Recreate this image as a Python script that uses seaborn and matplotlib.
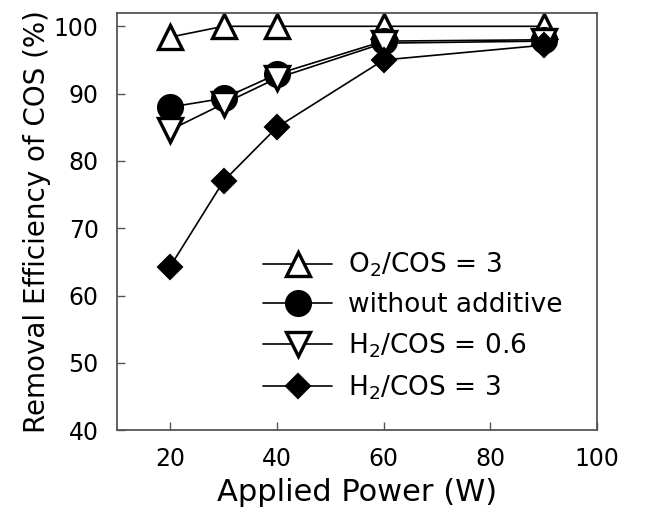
import pandas as pd
import matplotlib
matplotlib.use('Agg')
import matplotlib.pyplot as plt
import seaborn as sns

# ==================================================
# DATA
# ==================================================

power = [20, 30, 40, 60, 90]

o2_cos_3 = [98.4, 100.0, 100.0, 100.0, 100.0]
no_additive = [88.0, 89.3, 92.9, 97.8, 98.0]
h2_cos_06 = [84.6, 88.5, 92.3, 97.5, 97.8]
h2_cos_3 = [64.3, 77.0, 85.0, 95.0, 97.2]

labels = ['O$_2$/COS = 3', 'without additive', 'H$_2$/COS = 0.6', 'H$_2$/COS = 3']
series = [o2_cos_3, no_additive, h2_cos_06, h2_cos_3]

# ==================================================
# STYLE
# ==================================================

sns.set_theme(style='white')
plt.rcParams['font.family'] = ['DejaVu Sans']
plt.rcParams['mathtext.fontset'] = 'dejavusans'
plt.rcParams['text.color'] = 'black'
plt.rcParams['axes.labelcolor'] = 'black'

styles = [
    dict(marker='^', markersize=17, markerfacecolor='white', markeredgewidth=2.4),
    dict(marker='o', markersize=18, markerfacecolor='black', markeredgewidth=1.5),
    dict(marker='v', markersize=17, markerfacecolor='white', markeredgewidth=2.4),
    dict(marker='D', markersize=12, markerfacecolor='black', markeredgewidth=1.5),
]

# ==================================================
# PLOT
# ==================================================

fig = plt.figure(figsize=(6.45, 5.14), dpi=100)
ax = fig.add_axes([0.181, 0.163, 0.745, 0.812])

for lab, vals, st in zip(labels, series, styles):
    df = pd.DataFrame({'power': power, 'eff': vals})
    sns.lineplot(data=df, x='power', y='eff', ax=ax, color='black',
                 linewidth=1.2, markeredgecolor='black', label=lab, **st)

ax.set_xlim(10, 100)
ax.set_ylim(40, 102)
ax.set_xticks([20, 40, 60, 80, 100])
ax.set_yticks([40, 50, 60, 70, 80, 90, 100])

ax.tick_params(axis='both', direction='in', length=6, width=1, colors='#555555',
               labelcolor='black', labelsize=17, bottom=True, left=True)
ax.tick_params(axis='x', pad=12)
ax.tick_params(axis='y', pad=13)
for sp in ax.spines.values():
    sp.set_color('#555555')
    sp.set_linewidth(1.3)

ax.set_xlabel('Applied Power (W)', fontsize=22, labelpad=5)
ax.set_ylabel('Removal Efficiency of COS (%)', fontsize=20, labelpad=2)

ax.legend(loc='lower right', bbox_to_anchor=(0.96, 0.03), frameon=False,
          fontsize=19, handlelength=2.6, handletextpad=0.6, labelspacing=0.5,
          borderaxespad=0.2)

fig.savefig('out.png', dpi=100)
